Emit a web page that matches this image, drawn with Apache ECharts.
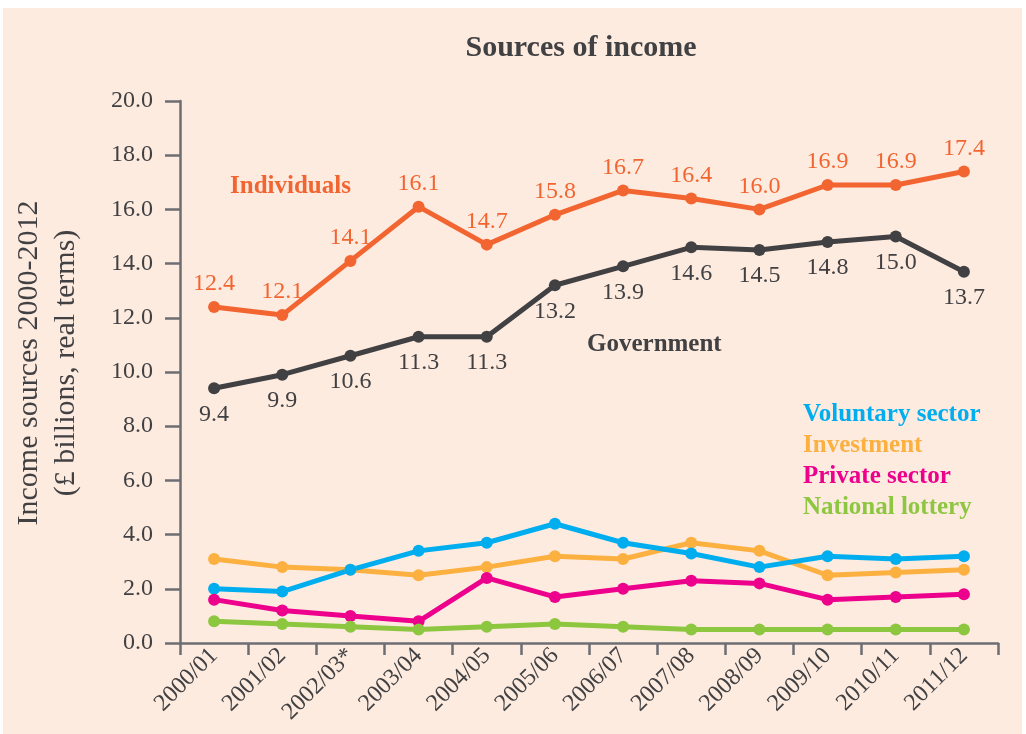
<!DOCTYPE html>
<html>
<head>
<meta charset="utf-8">
<script src="https://cdn.jsdelivr.net/npm/echarts@6/dist/echarts.min.js"></script>
<style>
html,body{margin:0;padding:0;background:#ffffff;}
#c{width:1026px;height:734px;}
</style>
</head>
<body>
<div id="c"></div>
<script>
const categories = ['2000/01','2001/02','2002/03*','2003/04','2004/05','2005/06','2006/07','2007/08','2008/09','2009/10','2010/11','2011/12'];
const individuals = [12.4,12.1,14.1,16.1,14.7,15.8,16.7,16.4,16.0,16.9,16.9,17.4];
const government = [9.4,9.9,10.6,11.3,11.3,13.2,13.9,14.6,14.5,14.8,15.0,13.7];
const voluntary = [2.0,1.9,2.7,3.4,3.7,4.4,3.7,3.3,2.8,3.2,3.1,3.2];
const investment = [3.1,2.8,2.7,2.5,2.8,3.2,3.1,3.7,3.4,2.5,2.6,2.7];
const privateSector = [1.6,1.2,1.0,0.8,2.4,1.7,2.0,2.3,2.2,1.6,1.7,1.8];
const lottery = [0.8,0.7,0.6,0.5,0.6,0.7,0.6,0.5,0.5,0.5,0.5,0.5];
const yTicks = {min:0, max:20, interval:2};

const FONT = '"Liberation Serif", "DejaVu Serif", serif';
const AX = '#6d6e71';
const TXT = '#414042';
const C = {ind:'#f26531', gov:'#414042', vol:'#00aeef', inv:'#fbb040', pri:'#ec008c', lot:'#8dc63f'};

function line(name, data, color, labelPos, dist) {
  const s = {
    name, type:'line', data,
    symbol:'circle', symbolSize:12,
    lineStyle:{color, width:5},
    itemStyle:{color},
    z: 3
  };
  if (labelPos) {
    s.label = {show:true, position:labelPos, distance:dist, color, fontFamily:FONT, fontSize:24,
      formatter: p => p.value.toFixed(1)};
  }
  return s;
}

const chart = echarts.init(document.getElementById('c'), null, {renderer:'canvas'});
chart.setOption({
  animation:false,
  backgroundColor:'#ffffff',
  grid:{left:180, right:28, top:101, bottom:91, containLabel:false},
  xAxis:{
    type:'category', data:categories, boundaryGap:true,
    axisLine:{lineStyle:{color:AX, width:2.5}},
    axisTick:{show:true, length:12, lineStyle:{color:AX, width:2.5}},
    axisLabel:{rotate:45, color:TXT, fontFamily:FONT, fontSize:24, margin:9, interval:0},
    splitLine:{show:false}
  },
  yAxis:{
    type:'value', min:yTicks.min, max:yTicks.max, interval:yTicks.interval,
    axisLine:{show:true, lineStyle:{color:AX, width:2.5}},
    axisTick:{show:true, length:15, lineStyle:{color:AX, width:2.5}},
    axisLabel:{color:TXT, fontFamily:FONT, fontSize:24, margin:27, formatter:v=>v.toFixed(1)},
    splitLine:{show:false}
  },
  graphic:[
    {type:'rect', silent:true, z:-10, shape:{x:3,y:8,width:1019,height:726}, style:{fill:'#fdebe0'}},
    {type:'text', silent:true, style:{x:581, y:48, text:'Sources of income', font:'bold 30px '+FONT, fill:TXT, textAlign:'center', textVerticalAlign:'middle'}},
    {type:'text', silent:true, x:29, y:363, rotation:Math.PI/2, style:{x:0, y:0, text:'Income sources 2000-2012', font:'30px '+FONT, fill:TXT, textAlign:'center', textVerticalAlign:'middle'}},
    {type:'text', silent:true, x:66, y:363, rotation:Math.PI/2, style:{x:0, y:0, text:'(£ billions, real terms)', font:'30px '+FONT, fill:TXT, textAlign:'center', textVerticalAlign:'middle'}},
    {type:'text', silent:true, style:{x:230, y:187, text:'Individuals', font:'bold 25px '+FONT, fill:C.ind, textVerticalAlign:'middle'}},
    {type:'text', silent:true, style:{x:587, y:345, text:'Government', font:'bold 25px '+FONT, fill:C.gov, textVerticalAlign:'middle'}},
    {type:'text', silent:true, style:{x:803, y:415, text:'Voluntary sector', font:'bold 25px '+FONT, fill:C.vol, textVerticalAlign:'middle'}},
    {type:'text', silent:true, style:{x:803, y:446, text:'Investment', font:'bold 25px '+FONT, fill:C.inv, textVerticalAlign:'middle'}},
    {type:'text', silent:true, style:{x:803, y:477, text:'Private sector', font:'bold 25px '+FONT, fill:C.pri, textVerticalAlign:'middle'}},
    {type:'text', silent:true, style:{x:803, y:508, text:'National lottery', font:'bold 25px '+FONT, fill:C.lot, textVerticalAlign:'middle'}}
  ],
  series:[
    line('Investment', investment, C.inv),
    line('Voluntary sector', voluntary, C.vol),
    line('Private sector', privateSector, C.pri),
    line('National lottery', lottery, C.lot),
    line('Government', government, C.gov, 'bottom', 8),
    line('Individuals', individuals, C.ind, 'top', 5)
  ]
});
</script>
</body>
</html>
